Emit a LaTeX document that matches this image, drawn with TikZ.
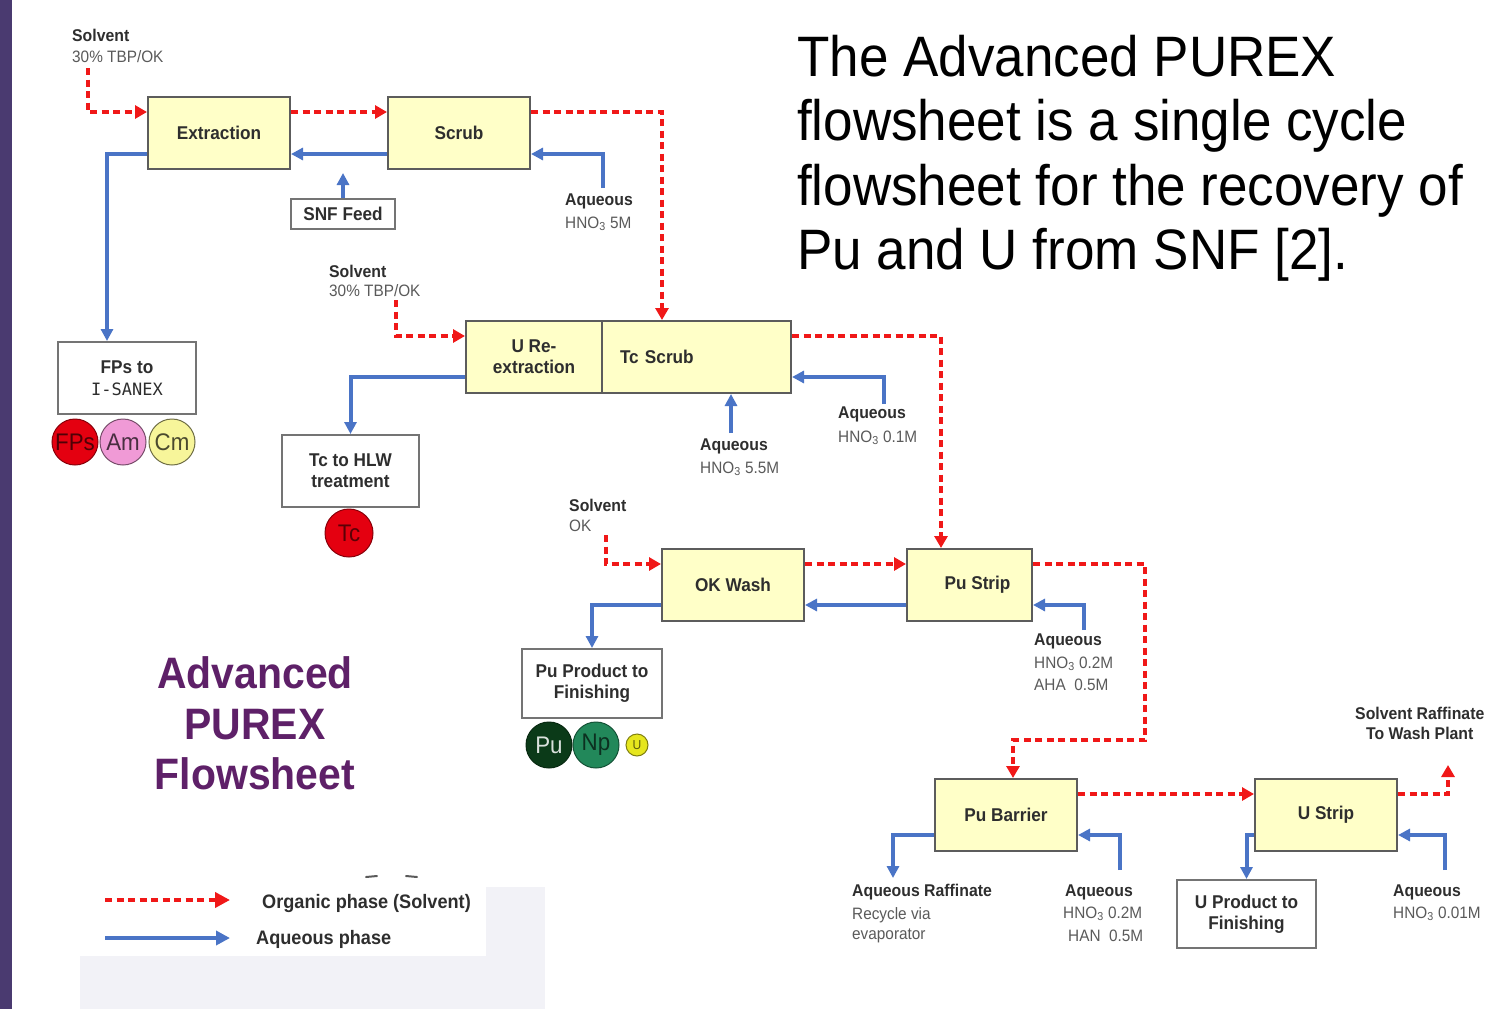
\documentclass[tikz,border=0pt]{standalone}
\usepackage{fontspec}
\setmainfont[FakeStretch=0.93]{Liberation Sans}
\newfontfamily\isanexfont{DejaVu Sans Mono}
\usetikzlibrary{arrows.meta}

\definecolor{orgred}{HTML}{F01818}
\definecolor{aqblue}{HTML}{4A74C6}
\definecolor{procfill}{HTML}{FFFFC8}
\definecolor{boxedge}{HTML}{5C5C5C}
\definecolor{slidepurple}{HTML}{4A3A70}
\definecolor{titlepurple}{HTML}{5E2068}
\definecolor{labelgray}{HTML}{5A5A5A}
\definecolor{labeldark}{HTML}{2E2E2E}
\definecolor{legendbg}{HTML}{F2F2F7}
\definecolor{fpred}{HTML}{E40010}
\definecolor{ampink}{HTML}{F09AD6}
\definecolor{cmyellow}{HTML}{F7F59A}
\definecolor{pugreen}{HTML}{0B3A18}
\definecolor{npgreen}{HTML}{22885A}
\definecolor{uyellow}{HTML}{E6E61E}

\newcommand\flowboxfont{\fontsize{18.5}{21}\selectfont\bfseries}
\newcommand\flowlblfont{\fontsize{17}{20}\selectfont\bfseries}
\newcommand\flowsubfont{\fontsize{16.5}{20}\selectfont}

\begin{document}
\begin{tikzpicture}[x=1pt,y=-1pt,
  proc/.style={draw=boxedge, fill=procfill, line width=2pt, inner sep=0pt,
    align=center, font=\flowboxfont, text=labeldark},
  outbox/.style={draw=boxedge!85, fill=white, line width=2pt, inner sep=0pt,
    align=center, font=\flowboxfont, text=labeldark},
  org/.style={draw=orgred, line width=4pt, dash pattern=on 7pt off 4.5pt,
    -{Triangle[length=12pt,width=13pt]}},
  aq/.style={draw=aqblue, line width=4pt, -{Triangle[length=12pt,width=12pt]}},
  lblb/.style={anchor=base west, inner sep=0pt, font=\flowlblfont, text=labeldark},
  lbls/.style={anchor=base west, inner sep=0pt, font=\flowsubfont, text=labelgray},
  elem/.style={circle, line width=1pt, inner sep=0pt, minimum size=46pt,
    font=\fontsize{24}{24}\selectfont},
  titleline/.style={anchor=base west, inner sep=0pt, font=\fontsize{57}{64}\selectfont},
  headline/.style={anchor=base, inner sep=0pt, text=titlepurple,
    font=\fontsize{44}{50}\selectfont\bfseries},
]
\useasboundingbox (0,0) rectangle (1486,1009);
\fill[white] (0,0) rectangle (1486,1009);
\fill[slidepurple] (0,0) rectangle (12,1009);

% legend backdrop
\fill[legendbg] (80,887) rectangle (545,1009);
\fill[white] (78,862) rectangle (486,956);
\draw[line width=2pt, labelgray, line cap=round] (366,877) -- (377,876);
\draw[line width=2pt, labelgray, line cap=round] (406,876) -- (417,877);

% heading text
\node[titleline] (t1) at (797,76) {The Advanced PUREX};
\node[titleline] (t2) at (797,140.5) {flowsheet is a single cycle};
\node[titleline] (t3) at (797,205) {flowsheet for the recovery of};
\node[titleline] (t4) at (797,269.5) {Pu and U from SNF [2].};

\node[headline] (h1) at (255,688) {Advanced};
\node[headline] (h2) at (255,739) {PUREX};
\node[headline] (h3) at (255,789) {Flowsheet};

% process stages
\node[proc, minimum width=142pt, minimum height=72pt] (ext) at (219,133) {Extraction};
\node[proc, minimum width=142pt, minimum height=72pt] (scrub) at (459,133) {Scrub};
\node[outbox, minimum width=104pt, minimum height=30pt, line width=1.6pt] (snf) at (343,214) {SNF Feed};
\node[outbox, minimum width=138pt, minimum height=72pt] (fps) at (127,378)
  {FPs to\\[1pt]{\isanexfont\mdseries\fontsize{17}{20}\selectfont I-SANEX}};

\node[proc, minimum width=136pt, minimum height=72pt] (urex) at (534,357) {U Re-\\extraction};
\node[proc, minimum width=189pt, minimum height=72pt, text width=153pt,
  inner xsep=18pt, align=left] (tcs) at (696.5,357) {Tc Scrub};
\node[outbox, minimum width=137pt, minimum height=72pt] (tchlw) at (350.5,471) {Tc to HLW\\treatment};

\node[proc, minimum width=142pt, minimum height=72pt] (okw) at (733,585) {OK Wash};
\node[proc, minimum width=125pt, minimum height=72pt] (pus) at (969.5,585) {\hspace*{16pt}Pu Strip};
\node[outbox, minimum width=140pt, minimum height=69pt] (pup) at (592,683.5) {Pu Product to\\Finishing};

\node[proc, minimum width=142pt, minimum height=72pt] (pub) at (1006,815) {Pu Barrier};
\node[proc, minimum width=142pt, minimum height=72pt] (us) at (1326,815) {U Strip};
\node[outbox, minimum width=139pt, minimum height=68pt] (upr) at (1246.5,914) {U Product to\\Finishing};

% element markers
\node[elem, fill=fpred, draw=fpred!60!black, text=fpred!35!black] (cfp) at (75,442) {FPs};
\node[elem, fill=ampink, draw=ampink!50!black, text=ampink!30!black] (cam) at (123,442) {Am};
\node[elem, fill=cmyellow, draw=cmyellow!45!black, text=cmyellow!30!black] (ccm) at (172,442) {Cm};
\node[elem, minimum size=48pt, fill=fpred, draw=fpred!60!black, text=fpred!40!black] (ctc) at (349,533) {Tc};
\node[elem, fill=pugreen, draw=pugreen!70!black, text=white!85!pugreen] (cpu) at (549,745) {Pu};
\node[elem, fill=npgreen, draw=npgreen!60!black, text=npgreen!35!black] (cnp) at (596,745) {Np};
\node[elem, minimum size=22pt, fill=uyellow, draw=uyellow!55!black, text=uyellow!40!black,
  font=\fontsize{13}{13}\selectfont] (cu) at (637,745) {U};

% stream labels
\node[lblb] (sv1a) at (72,41) {Solvent};
\node[lbls] (sv1b) at (72,62) {30\% TBP/OK};
\node[lblb] (aq1a) at (565,205) {Aqueous};
\node[lbls] (aq1b) at (565,228) {HNO\textsubscript{3} 5M};
\node[lblb] (sv2a) at (329,277) {Solvent};
\node[lbls] (sv2b) at (329,296) {30\% TBP/OK};
\node[lblb] (aq2a) at (838,418) {Aqueous};
\node[lbls] (aq2b) at (838,442) {HNO\textsubscript{3} 0.1M};
\node[lblb] (aq3a) at (700,450) {Aqueous};
\node[lbls] (aq3b) at (700,473) {HNO\textsubscript{3} 5.5M};
\node[lblb] (sv3a) at (569,511) {Solvent};
\node[lbls] (sv3b) at (569,531) {OK};
\node[lblb] (aq4a) at (1034,645) {Aqueous};
\node[lbls] (aq4b) at (1034,668) {HNO\textsubscript{3} 0.2M};
\node[lbls] (aq4c) at (1034,690) {AHA\ \ 0.5M};
\node[lblb] (sr1) at (1355,719) {Solvent Raffinate};
\node[lblb] (sr2) at (1366,739) {To Wash Plant};
\node[lblb] (ar1) at (852,896) {Aqueous Raffinate};
\node[lbls] (ar2) at (852,919) {Recycle via};
\node[lbls] (ar3) at (852,939) {evaporator};
\node[lblb] (aq5a) at (1065,896) {Aqueous};
\node[lbls] (aq5b) at (1063,918) {HNO\textsubscript{3} 0.2M};
\node[lbls] (aq5c) at (1068,941) {HAN\ \ 0.5M};
\node[lblb] (aq6a) at (1393,896) {Aqueous};
\node[lbls] (aq6b) at (1393,918) {HNO\textsubscript{3} 0.01M};

% free stream ends
\coordinate (s1) at (88,68);
\coordinate (s2) at (396,300);
\coordinate (s3) at (606,535);
\coordinate (a1) at (603,188);
\coordinate (a2) at (884,404);
\coordinate (a3) at (731,433);
\coordinate (a4) at (1084,630);
\coordinate (a5) at (1120,870);
\coordinate (a6) at (1445,870);
\coordinate (k1) at (1145,740);
\coordinate (raf) at (1448,765);
\coordinate (r1) at (893,878);

% organic (solvent) streams
\draw[org] (s1) |- ([yshift=21pt]ext.west);
\draw[org] ([yshift=21pt]ext.east) -- ([yshift=21pt]scrub.west);
\draw[org] ([yshift=21pt]scrub.east) -| ([xshift=-34.5pt]tcs.north);
\draw[org] (s2) |- ([yshift=21pt]urex.west);
\draw[org] ([yshift=21pt]tcs.east) -| ([xshift=-28.5pt]pus.north);
\draw[org] (s3) |- ([yshift=21pt]okw.west);
\draw[org] ([yshift=21pt]okw.east) -- ([yshift=21pt]pus.west);
\draw[org] ([yshift=21pt]pus.east) -| (k1) -| ([xshift=7pt]pub.north);
\draw[org] ([yshift=21pt]pub.east) -- ([yshift=21pt]us.west);
\draw[org] ([yshift=21pt]us.east) -| (raf);

% aqueous streams
\draw[aq] ([yshift=-21pt]scrub.west) -- ([yshift=-21pt]ext.east);
\draw[aq] (snf.north) -- ([yshift=-3pt]snf.north |- ext.south);
\draw[aq] (a1) |- ([yshift=-21pt]scrub.east);
\draw[aq] ([yshift=-21pt]ext.west) -| ([xshift=-20pt]fps.north);
\draw[aq] (a2) |- ([yshift=-20pt]tcs.east);
\draw[aq] (a3) -- (a3 |- tcs.south);
\draw[aq] ([yshift=-20pt]urex.west) -| (tchlw.north);
\draw[aq] ([yshift=-20pt]pus.west) -- ([yshift=-20pt]okw.east);
\draw[aq] ([yshift=-20pt]okw.west) -| (pup.north);
\draw[aq] (a4) |- ([yshift=-20pt]pus.east);
\draw[aq] ([yshift=-20pt]pub.west) -| (r1);
\draw[aq] (a5) |- ([yshift=-20pt]pub.east);
\draw[aq] ([yshift=-20pt]us.west) -| (upr.north);
\draw[aq] (a6) |- ([yshift=-20pt]us.east);

% legend
\coordinate (lo1) at (105,900);
\coordinate (lo2) at (230,900);
\coordinate (la1) at (105,938);
\coordinate (la2) at (230,938);
\draw[org, -{Triangle[length=15pt,width=15pt]}] (lo1) -- (lo2);
\draw[aq, -{Triangle[length=14pt,width=14pt]}] (la1) -- (la2);
\node[lblb, font=\fontsize{19.5}{22}\selectfont\bfseries] (lg1) at (262,908) {Organic phase (Solvent)};
\node[lblb, font=\fontsize{19.5}{22}\selectfont\bfseries] (lg2) at (256,944) {Aqueous phase};
\end{tikzpicture}
\end{document}
